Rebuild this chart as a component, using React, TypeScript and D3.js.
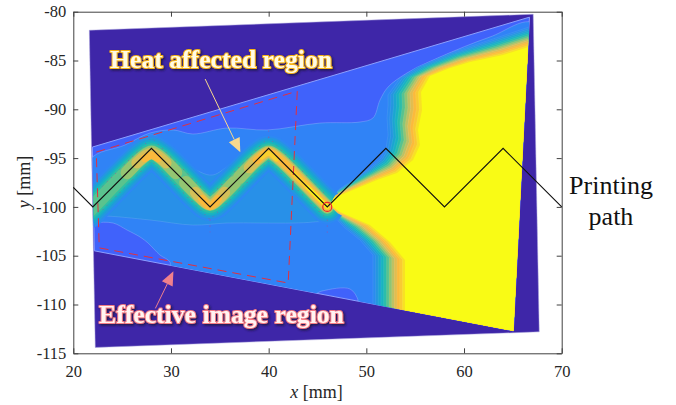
import { useEffect, useRef } from "react";
import * as d3 from "d3";

type Pt = [number, number];

const xTicks = [20, 30, 40, 50, 60, 70];
const yTicks = [-80, -85, -90, -95, -100, -105, -110, -115];

// printing path, mm
const pathXs = [20, 22, 28, 34, 40, 46, 52, 58, 64, 70];
const pathYs = [-98, -100, -94, -100, -94, -100, -94, -100, -94, -100];

// image corners and effective image region, mm
const imageOutline: Pt[] = [[21.64, -81.9], [67.08, -80.26], [67.7, -112.8], [22.25, -114.4]];
const effectiveOutline: Pt[] = [[21.95, -93.87], [66.7, -80.56], [65.05, -112.7], [22.15, -104.5]];
const dashedBox: Pt[] = [[22.35, -94.38], [42.93, -88.14], [42.0, -107.8], [22.66, -104.2]];

// contour of the blue plateau
const plateauContour: Pt[] = [
  [21.71, -95.19], [25.29, -93.66], [27.85, -92.43], [30.21, -92.12], [32.25, -92.53], [35.74, -91.92],
  [39.83, -92.12], [45.25, -91.41], [49.35, -91.3], [50.68, -90.89], [51.4, -89.05], [52.22, -87.72],
  [54.16, -86.28], [57.54, -84.64], [62.66, -82.59], [67.27, -81.26], [67.78, -113.64], [49.15, -110.05],
  [49.15, -109.54], [48.33, -108.41], [45.46, -108.62], [44.23, -109.13], [29.9, -106.98], [29.9, -105.65],
  [28.87, -104.93], [27.65, -103.7], [26.83, -103.08], [25.5, -102.37], [24.07, -101.65], [22.22, -101.65],
  [21.71, -101.85],
];

// contour of the lighter zone around the wave
const waveZoneContour: Pt[] = [
  [21.71, -99.29], [25.8, -94.15], [28.16, -92.63], [30.62, -94.89], [32.97, -96.42], [34.3, -96.73],
  [36.35, -95.4], [38.7, -93.66], [39.93, -92.94], [42.18, -94.15], [44.54, -96.73], [46.28, -98.78],
  [46.79, -101.14], [44.54, -101.55], [42.49, -101.65], [39.11, -101.65], [35.74, -101.65], [32.25, -101.86],
  [27.85, -101.34], [23.04, -100.93], [21.71, -101.03],
];

// melt front: first contour above the plateau and the edge of the saturated yellow
const frontOuter: Pt[] = [
  [50.68, -112], [50.68, -104.93], [49.35, -103.39], [47.82, -102.16], [46.6, -100.9], [46.2, -100],
  [47.2, -98.2], [48.63, -97.24], [50.37, -96.01], [51.5, -94.99], [52.02, -93.96], [52.22, -92.63],
  [52.12, -90.89], [52.22, -89.56], [52.22, -88.53], [53.45, -86.79], [55.19, -85.67], [58.57, -84.23],
  [62.66, -82.9], [66.96, -81.47], [69, -80], [69, -113],
];
const frontInner: Pt[] = [
  [53.96, -112], [53.96, -105.44], [52.42, -103.6], [50.37, -101.85], [47.3, -100.52], [46.28, -99.8],
  [46.69, -99.09], [48.63, -98.27], [51.09, -97.24], [53.14, -96.53], [54.78, -95.2], [55.49, -93.66],
  [55.29, -92.12], [55.7, -90.07], [55.6, -88.23], [56.52, -86.59], [58.57, -85.77], [60.61, -85.15],
  [63.99, -84.44], [66.96, -83.51], [69, -80], [69, -113],
];

// heat ridge along the path
const ridge: Pt[] = [
  [21.5, -100.5], [22, -100], [27, -95], [28, -94.4], [29, -95], [33, -99], [34, -99.7], [35, -99],
  [39, -95], [40, -94.4], [41, -95], [45, -99], [46, -100],
];
const ridgeLevels = [0.12, 0.2, 0.28, 0.36, 0.44, 0.5];
const ridgeWidths = [34, 30, 26, 22, 18, 14];

// hotter stretches of the ridge, one list per colour level
const hotLevels = [0.58, 0.68, 0.78, 0.88, 0.97];
const hotWidths = [13, 11, 8, 5, 4];
const hotRuns: Pt[][][] = [
  [
    [[25.5, -96.5], [27, -95], [28, -94.4], [29, -95], [30.5, -96.5]],
    [[31.5, -97.5], [33, -99], [34, -99.7], [35, -99], [36.5, -97.5]],
    [[37, -97], [39, -95], [40, -94.4], [41, -95], [45, -99], [46, -100]],
  ],
  [
    [[26.5, -95.5], [28, -94.5], [29.5, -95.5]],
    [[32.5, -98.5], [34, -99.8], [35.5, -98.5]],
    [[38, -96], [39, -95], [40, -94.4], [41, -95], [45, -99], [46, -100]],
  ],
  [
    [[27.3, -95], [28, -94.7], [28.7, -95]],
    [[33.2, -99.2], [34, -99.9], [34.8, -99.2]],
    [[38.8, -95.2], [40, -94.4], [41, -95], [45, -99], [46, -100]],
  ],
  [
    [[39.3, -94.9], [40, -94.5], [40.8, -95.1]],
    [[42.5, -96.5], [45, -99], [46, -100]],
  ],
  [
    [[44, -98], [46, -100]],
  ],
];

// faint dotted traces beside the ridge
const dotTraces: Pt[][] = [
  [[23, -97.9], [28, -92.9], [34, -98.9], [40, -92.9], [46, -98.9]],
  [[23, -100.3], [28, -95.3], [34, -101.3], [40, -95.3], [46, -101.3]],
  [[34, -101.3], [34, -102.6]],
  [[40, -92.9], [40, -91.8]],
  [[46, -101.3], [46, -103]],
];

const parula = ["#4062fb", "#2e87f5", "#2398dd", "#12b0c8", "#2fbfa3", "#84c678", "#cfc05c", "#fbb83c", "#f8d22c", "#f9fb15"];
const frontBands = d3.range(0, 13);

const heatArrow: Pt[] = [[33.5, -86.9], [37.1, -94.4]];
const imageArrow: Pt[] = [[28.4, -110.4], [30.25, -106.6]];

const width = 676;
const height = 405;
const serif = "'Liberation Serif', 'Times New Roman', serif";

export default function App() {
  const ref = useRef<SVGSVGElement>(null);

  useEffect(() => {
    const svg = d3.select(ref.current);
    svg.selectAll("*").remove();

    const x = d3.scaleLinear().domain([20, 70]).range([73.3, 561.7]);
    const y = d3.scaleLinear().domain([-115, -80]).range([353.3, 11.7]);
    const line = d3.line<Pt>().x((d) => x(d[0])).y((d) => y(d[1]));
    const smooth = d3.line<Pt>().x((d) => x(d[0])).y((d) => y(d[1])).curve(d3.curveCatmullRom);
    const closed = (pts: Pt[]) => line(pts) + "Z";
    const round = d3.line<Pt>().x((d) => x(d[0])).y((d) => y(d[1])).curve(d3.curveCatmullRomClosed.alpha(0.5));
    const heat = d3.scaleLinear<string>()
      .domain(parula.map((_, i) => i / (parula.length - 1)))
      .range(parula)
      .interpolate(d3.interpolateRgb);

    const defs = svg.append("defs");
    defs.append("clipPath").attr("id", "effective").append("path").attr("d", closed(effectiveOutline));
    const shadow = defs.append("filter").attr("id", "shadow").attr("x", "-10%").attr("y", "-30%").attr("width", "120%").attr("height", "170%");
    shadow.append("feDropShadow").attr("dx", 1.5).attr("dy", 1.5).attr("stdDeviation", 1).attr("flood-color", "#1a1440").attr("flood-opacity", 0.9);

    svg.append("path").attr("d", closed(imageOutline)).attr("fill", "#3e26a8")
      .attr("stroke", "#a9a2dc").attr("stroke-width", 0.5);

    svg.append("path").attr("d", closed(effectiveOutline)).attr("fill", heat(0))
      .attr("stroke", "#8c9fff").attr("stroke-width", 1);

    const field = svg.append("g").attr("clip-path", "url(#effective)");
    const contourStroke = "rgba(255,255,255,0.13)";

    field.append("path").attr("d", round(plateauContour)).attr("fill", heat(0.1)).attr("stroke", "rgba(255,255,255,0.25)").attr("stroke-width", 0.8);
    field.append("path").attr("d", round(waveZoneContour)).attr("fill", heat(0.17)).attr("stroke", "rgba(255,255,255,0.2)").attr("stroke-width", 0.6);

    // band edges between the two read contours of the front
    const frontBand = (k: number) => {
      const t = k / (frontBands.length - 1);
      const pts = frontOuter.map((p, i) => d3.interpolateArray(p, frontInner[i])(t) as Pt);
      field.append("path").attr("d", closed(pts))
        .attr("fill", heat(0.14 + 0.86 * t))
        .attr("stroke", k === frontBands.length - 1 ? "none" : contourStroke).attr("stroke-width", 0.6);
    };
    frontBands.forEach(frontBand);

    ridgeLevels.forEach((t, i) => {
      field.append("path").attr("d", smooth(ridge)).attr("fill", "none")
        .attr("stroke", heat(t)).attr("stroke-width", ridgeWidths[i])
        .attr("stroke-linecap", "round").attr("stroke-linejoin", "round");
    });
    hotRuns.forEach((runs, i) => {
      runs.forEach((run) => {
        field.append("path").attr("d", smooth(run)).attr("fill", "none")
          .attr("stroke", heat(hotLevels[i])).attr("stroke-width", hotWidths[i])
          .attr("stroke-linecap", "round").attr("stroke-linejoin", "round");
      });
    });
    // the ridge cap runs over the tip of the front, so the hottest bands go back on top
    frontBands.slice(8).forEach(frontBand);

    dotTraces.forEach((trace) => {
      field.append("path").attr("d", line(trace)).attr("fill", "none")
        .attr("stroke", "#c0408a").attr("stroke-opacity", 0.6).attr("stroke-width", 1).attr("stroke-dasharray", "1 5");
    });

    // dashed region box
    svg.append("path").attr("d", closed(dashedBox)).attr("fill", "none")
      .attr("stroke", "#e2303f").attr("stroke-width", 1).attr("stroke-dasharray", "9 6");

    // axes
    const styleAxis = (g: any) => {
      g.selectAll("path,line").attr("stroke", "#404040").attr("stroke-width", 1);
      g.selectAll("text").attr("fill", "#262626").attr("font-family", serif).attr("font-size", 16.5);
    };
    const bottom = d3.axisBottom(x).tickValues(xTicks).tickFormat((d) => String(d)).tickSizeInner(-5).tickSizeOuter(0).tickPadding(12);
    const topAxis = d3.axisTop(x).tickValues(xTicks).tickFormat(() => "").tickSizeInner(-5).tickSizeOuter(0);
    const left = d3.axisLeft(y).tickValues(yTicks).tickFormat((d) => String(d)).tickSizeInner(-5).tickSizeOuter(0).tickPadding(7);
    const right = d3.axisRight(y).tickValues(yTicks).tickFormat(() => "").tickSizeInner(-5).tickSizeOuter(0);
    svg.append("g").attr("transform", "translate(0,353.3)").call(bottom).call(styleAxis);
    svg.append("g").attr("transform", "translate(0,11.7)").call(topAxis).call(styleAxis);
    svg.append("g").attr("transform", "translate(73.3,0)").call(left).call(styleAxis);
    svg.append("g").attr("transform", "translate(561.7,0)").call(right).call(styleAxis);

    // printing path
    const pathPts = pathXs.map((v, i) => [v, pathYs[i]] as Pt);
    svg.append("path").attr("d", line(pathPts)).attr("fill", "none").attr("stroke", "#111").attr("stroke-width", 1.2);
    svg.append("circle").attr("cx", x(46)).attr("cy", y(-100)).attr("r", 4.5)
      .attr("fill", "none").attr("stroke", "#f0282d").attr("stroke-width", 1.2);

    // axis titles
    const xLabel = svg.append("text").attr("x", 316.5).attr("y", 398).attr("text-anchor", "middle")
      .attr("font-family", serif).attr("font-size", 18).attr("fill", "#262626");
    xLabel.append("tspan").attr("font-style", "italic").text("x");
    xLabel.append("tspan").text(" [mm]");
    const yLabel = svg.append("text").attr("transform", "translate(30,182) rotate(-90)").attr("text-anchor", "middle")
      .attr("font-family", serif).attr("font-size", 18).attr("fill", "#262626");
    yLabel.append("tspan").attr("font-style", "italic").text("y");
    yLabel.append("tspan").text(" [mm]");

    // callouts
    const arrow = (pts: Pt[], color: string) => {
      const [a, b] = pts;
      const x1 = x(a[0]), y1 = y(a[1]), x2 = x(b[0]), y2 = y(b[1]);
      const ang = Math.atan2(y2 - y1, x2 - x1);
      const len = 14, half = 6;
      const bx = x2 - len * Math.cos(ang), by = y2 - len * Math.sin(ang);
      svg.append("line").attr("x1", x1).attr("y1", y1).attr("x2", bx).attr("y2", by).attr("stroke", color).attr("stroke-width", 1);
      svg.append("polygon")
        .attr("points", [[x2, y2], [bx - half * Math.sin(ang), by + half * Math.cos(ang)], [bx + half * Math.sin(ang), by - half * Math.cos(ang)]].join(" "))
        .attr("fill", color);
    };
    arrow(heatArrow, "#f8d98e");
    arrow(imageArrow, "#f0808c");

    const callout = (label: string, px: number, py: number, fill: string, edge: string) => {
      svg.append("text").attr("x", px).attr("y", py)
        .attr("font-family", serif).attr("font-weight", "bold").attr("font-size", 25.7)
        .attr("fill", fill).attr("stroke", edge).attr("stroke-width", 2).attr("paint-order", "stroke")
        .attr("stroke-linejoin", "round").attr("filter", "url(#shadow)").text(label);
    };
    callout("Heat affected region", 110, 68, "#fffbe6", "#f7b413");
    callout("Effective image region", 99, 323, "#fff4f2", "#f47c84");

    // side note
    const note = svg.append("g").attr("font-family", serif).attr("font-size", 26).attr("fill", "#111").attr("text-anchor", "middle");
    note.append("text").attr("x", 611).attr("y", 194).text("Printing");
    note.append("text").attr("x", 611).attr("y", 225).text("path");
  }, []);

  return <svg ref={ref} width={width} height={height} style={{ position: "absolute", left: 0, top: 0, background: "#fff" }} />;
}
